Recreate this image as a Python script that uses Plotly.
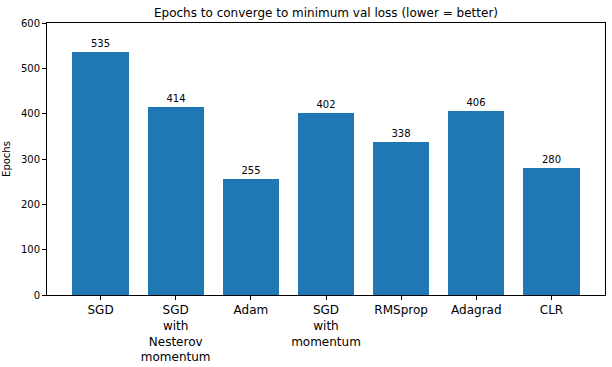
import plotly.graph_objects as go

categories = ["SGD", "SGD<br>with<br>Nesterov<br>momentum", "Adam", "SGD<br>with<br>momentum",
              "RMSprop", "Adagrad", "CLR"]
epochs = [535, 414, 255, 402, 338, 406, 280]
y_ticks = [0, 100, 200, 300, 400, 500, 600]

x_pos = list(range(len(categories)))

fig = go.Figure()
fig.add_trace(go.Bar(
    x=x_pos, y=epochs, width=0.75,
    marker=dict(color="#1f77b4", line=dict(width=0)),
    text=[str(v) for v in epochs], textposition="outside",
    textfont=dict(family="DejaVu Sans", size=10, color="black"),
    cliponaxis=False,
))

fig.update_layout(
    width=612, height=367,
    margin=dict(l=47, r=7, t=23, b=72, autoexpand=False),
    paper_bgcolor="white", plot_bgcolor="white",
    font=dict(family="DejaVu Sans", color="black"),
    title=dict(text="Epochs to converge to minimum val loss (lower = better)",
               x=(47 + (605 - 47) / 2) / 612, xanchor="center",
               y=1 - 13 / 367, yanchor="middle",
               font=dict(size=12, family="DejaVu Sans", color="black")),
    showlegend=False,
    bargap=0,
)

fig.update_xaxes(
    range=[-0.7125, 6.7125], tickvals=x_pos, ticktext=categories,
    showline=True, linecolor="black", linewidth=1, mirror=True,
    ticks="outside", ticklen=4, tickcolor="black",
    tickfont=dict(size=12, family="DejaVu Sans", color="black"),
    showgrid=False, zeroline=False, automargin=False,
)
fig.update_yaxes(
    range=[0, 600], tickvals=y_ticks,
    showline=True, linecolor="black", linewidth=1, mirror=True,
    ticks="outside", ticklen=4, tickcolor="black",
    tickfont=dict(size=10, family="DejaVu Sans", color="black"),
    showgrid=False, zeroline=False, automargin=False,
    title=dict(text="Epochs", font=dict(size=10, family="DejaVu Sans"), standoff=8),
)

fig.write_html("out.html")
